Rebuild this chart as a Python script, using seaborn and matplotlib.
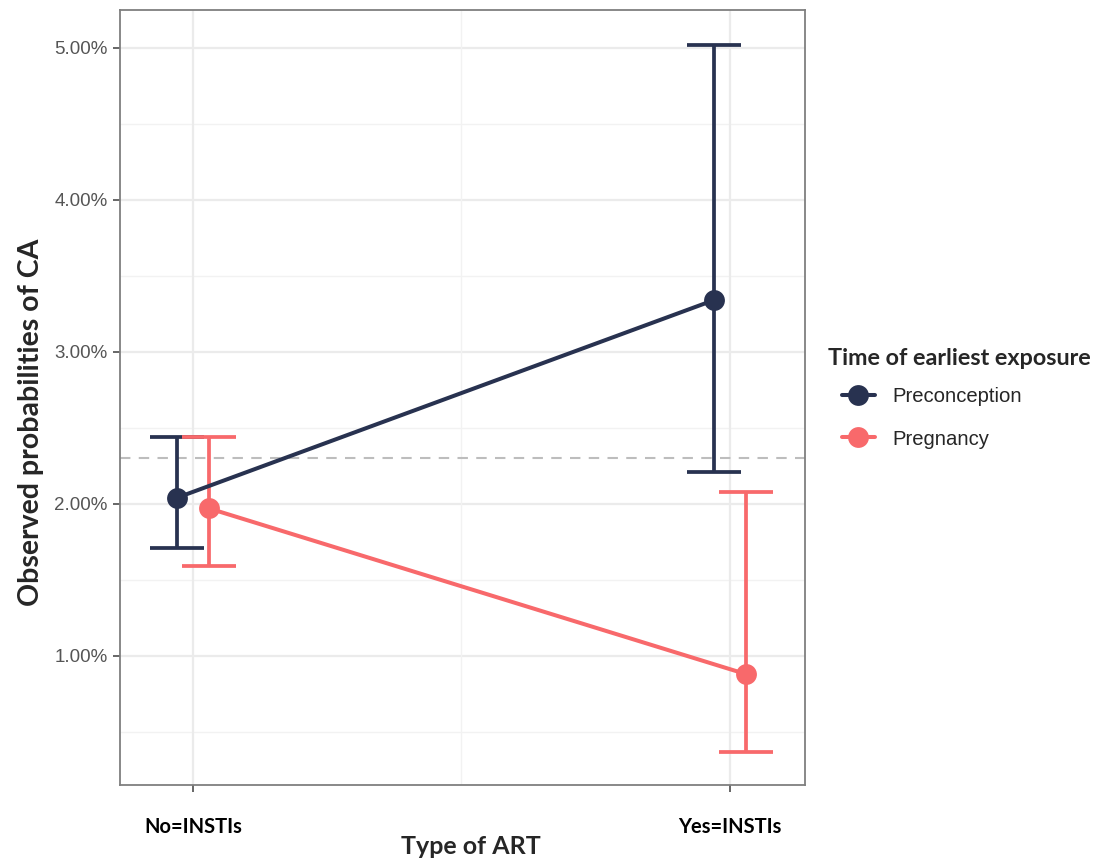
'''
Observed probabilities of CA by type of ART and time of earliest exposure
'''
import seaborn as sns
import pandas as pd
import matplotlib.pyplot as plt
from matplotlib.lines import Line2D

art_types = ['No=INSTIs', 'Yes=INSTIs']
exposure = ['Preconception', 'Pregnancy']
prob_precon = [2.04, 3.34]
low_precon = [1.71, 2.21]
high_precon = [2.44, 5.02]
prob_preg = [1.97, 0.88]
low_preg = [1.59, 0.37]
high_preg = [2.44, 2.08]
ref_line = 2.30

colors = {'Preconception': '#283250', 'Pregnancy': '#f8696b'}

rows = []
for i, art in enumerate(art_types):
    rows.append({'art': art, 'idx': i, 'time': 'Preconception', 'prob': prob_precon[i],
                 'low': low_precon[i], 'high': high_precon[i]})
    rows.append({'art': art, 'idx': i, 'time': 'Pregnancy', 'prob': prob_preg[i],
                 'low': low_preg[i], 'high': high_preg[i]})
data = pd.DataFrame(rows)
dodge = {'Preconception': -0.03, 'Pregnancy': 0.03}
data['xpos'] = data['idx'] + data['time'].map(dodge)

sns.set_theme(style='white')
fig = plt.figure(figsize=(11.01, 8.63), dpi=100)
ax = fig.add_axes([0.109, 0.0904, 0.622, 0.898])

# grid
for y in [1, 2, 3, 4, 5]:
    ax.axhline(y, color='#ebebeb', lw=1.6, zorder=0)
for y in [0.5, 1.5, 2.5, 3.5, 4.5]:
    ax.axhline(y, color='#f2f2f2', lw=1.0, zorder=0)
for x in [0, 1]:
    ax.axvline(x, color='#ebebeb', lw=1.6, zorder=0)
ax.axvline(0.5, color='#f2f2f2', lw=1.0, zorder=0)

ax.axhline(ref_line, color='#bdbdbd', ls=(0, (5, 4)), lw=1.5, zorder=1)

for t in exposure:
    sub = data[data.time == t]
    ax.errorbar(sub.xpos, sub.prob, yerr=[sub.prob - sub.low, sub.high - sub.prob],
                fmt='none', ecolor=colors[t], elinewidth=2.7, capsize=19.5,
                capthick=2.7, zorder=2)

sns.lineplot(data=data, x='xpos', y='prob', hue='time', palette=colors,
             marker='o', markersize=15, markeredgewidth=0, linewidth=2.9,
             legend=False, ax=ax, zorder=3)

ax.set_xlim(-0.136, 1.14)
ax.set_ylim(0.15, 5.25)
ax.set_xticks([0, 1])
ax.set_xticklabels(art_types, fontfamily='Lato', fontweight='bold', fontsize=14.5,
                   color='black')
ax.set_yticks([1, 2, 3, 4, 5])
ax.set_yticklabels(['%.2f%%' % v for v in [1, 2, 3, 4, 5]],
                   fontfamily='Liberation Sans', fontsize=13.5, color='#555555')
ax.tick_params(axis='both', which='major', length=5, width=1.2, color='#4d4d4d',
               direction='out', bottom=True, left=True)
ax.tick_params(axis='x', pad=18)
ax.tick_params(axis='y', pad=4)

ax.set_xlabel('Type of ART', fontfamily='Lato', fontweight='bold', fontsize=18)
ax.set_ylabel('Observed probabilities of CA', fontfamily='Lato', fontweight='bold',
              fontsize=20.5)
ax.xaxis.set_label_coords(0.512, -0.064)
ax.yaxis.set_label_coords(-0.111, 0.468)

for s in ax.spines.values():
    s.set_color('#7f7f7f')
    s.set_linewidth(1.3)

fig.text(828 / 1101, 1 - 358 / 863, 'Time of earliest exposure', fontfamily='Lato',
         fontweight='bold', fontsize=16.8, ha='left', va='center')
handles = [Line2D([0], [0], color=colors[t], marker='o', markersize=15, lw=2.9,
                  markeredgewidth=0) for t in exposure]
leg = fig.legend(handles, exposure, loc='upper left',
                 bbox_to_anchor=(824 / 1101, 1 - 369 / 863), frameon=False,
                 handlelength=1.6, handletextpad=0.85, labelspacing=1.15,
                 prop={'family': 'Liberation Sans', 'size': 14.6})

fig.savefig('out.png', dpi=100)
